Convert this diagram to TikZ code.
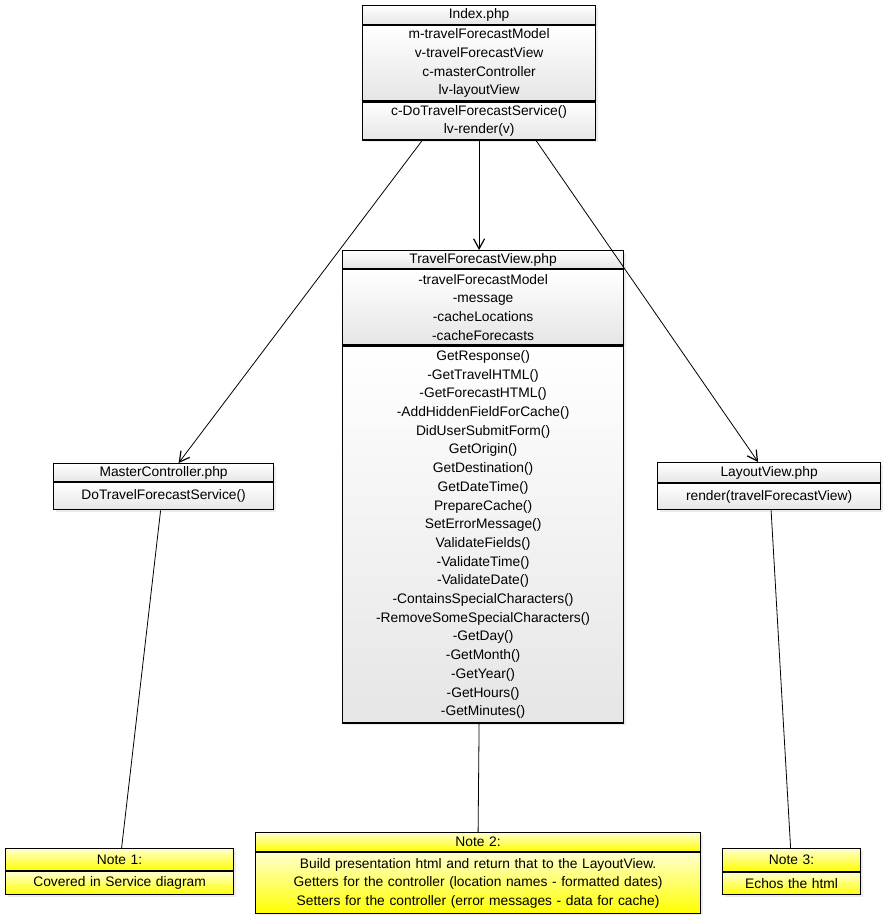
\documentclass[tikz,border=0pt]{standalone}
\usepackage{fontspec}
\setmainfont{Liberation Sans}
\usepackage{tikz}
\usetikzlibrary{arrows.meta,shadows}
\def\classfont{\fontsize{13.8}{18.7}\selectfont}
\tikzset{
    %Define style for class compartments
    classpart/.style={
           rectangle,
           draw=black, line width=1.2pt,
           top color=white, bottom color=black!10,
           drop shadow={opacity=0.15, shadow xshift=2pt, shadow yshift=-2pt},
           inner sep=0pt,
           anchor=north west,
           text centered,
           font=\classfont},
    notepart/.style={
           classpart,
           top color=yellow!20,
           bottom color=yellow},
    link/.style={draw=black, line width=0.8pt}
}
\begin{document}
\begin{tikzpicture}[x=1pt, y=-1pt, >={Straight Barb[length=10pt,width=11pt,line width=1.2pt]}]
\useasboundingbox[fill=white] (0,0) rectangle (884,915);
% Index.php
\node[classpart, text width=233pt, minimum height=19pt] (indexname) at (362,5) {Index.php};
\node[classpart, text width=233pt, minimum height=75pt] (indexattr) at (indexname.south west) {m-travelForecastModel\\v-travelForecastView\\c-masterController\\lv-layoutView};
\node[classpart, text width=233pt, minimum height=38pt] (indexops) at (indexattr.south west) {c-DoTravelForecastService()\\lv-render(v)};
% TravelForecastView.php
\node[classpart, text width=281pt, minimum height=18pt] (tfvname) at (342,250) {TravelForecastView.php};
\node[classpart, text width=281pt, minimum height=75pt] (tfvattr) at (tfvname.south west) {-travelForecastModel\\-message\\-cacheLocations\\-cacheForecasts};
\node[classpart, text width=281pt, minimum height=377pt] (tfvops) at (tfvattr.south west) {GetResponse()\\-GetTravelHTML()\\-GetForecastHTML()\\-AddHiddenFieldForCache()\\DidUserSubmitForm()\\GetOrigin()\\GetDestination()\\GetDateTime()\\PrepareCache()\\SetErrorMessage()\\ValidateFields()\\-ValidateTime()\\-ValidateDate()\\-ContainsSpecialCharacters()\\-RemoveSomeSpecialCharacters()\\-GetDay()\\-GetMonth()\\-GetYear()\\-GetHours()\\-GetMinutes()};
% MasterController.php
\node[classpart, text width=220pt, minimum height=18pt] (mcname) at (53,463) {MasterController.php};
\node[classpart, text width=220pt, minimum height=27pt] (mcops) at (mcname.south west) {DoTravelForecastService()};
% LayoutView.php
\node[classpart, text width=223pt, minimum height=20pt] (lvname) at (657,462) {LayoutView.php};
\node[classpart, text width=223pt, minimum height=26pt] (lvops) at (lvname.south west) {render(travelForecastView)};
% Notes
\node[notepart, text width=228pt, minimum height=22pt] (note1name) at (5,848) {Note 1:};
\node[notepart, text width=228pt, minimum height=23pt] (note1text) at (note1name.south west) {Covered in Service diagram};
\node[notepart, text width=445pt, minimum height=19pt] (note2name) at (255,832) {Note 2:};
\node[notepart, text width=445pt, minimum height=61pt] (note2text) at (note2name.south west) {Build presentation html and return that to the LayoutView.\\Getters for the controller (location names - formatted dates)\\Setters for the controller (error messages - data for cache)};
\node[notepart, text width=138pt, minimum height=23pt] (note3name) at (722,848) {Note 3:};
\node[notepart, text width=138pt, minimum height=22pt] (note3text) at (note3name.south west) {Echos the html};
% Connectors
\path[link,->] ([xshift=-57pt]indexops.south) -- ([xshift=15pt]mcname.north);
\path[link,->] (indexops.south) -- (indexops.south |- tfvname.north);
\path[link,->] ([xshift=57pt]indexops.south) -- ([xshift=-11pt]lvname.north);
\path[link] ([xshift=-3pt]mcops.south) -- ([xshift=2pt]note1name.north);
\path[link] ([xshift=-4pt]tfvops.south) -- (note2name.north);
\path[link] ([xshift=2pt]lvops.south) -- ([xshift=-1pt]note3name.north);
\end{tikzpicture}
\end{document}
